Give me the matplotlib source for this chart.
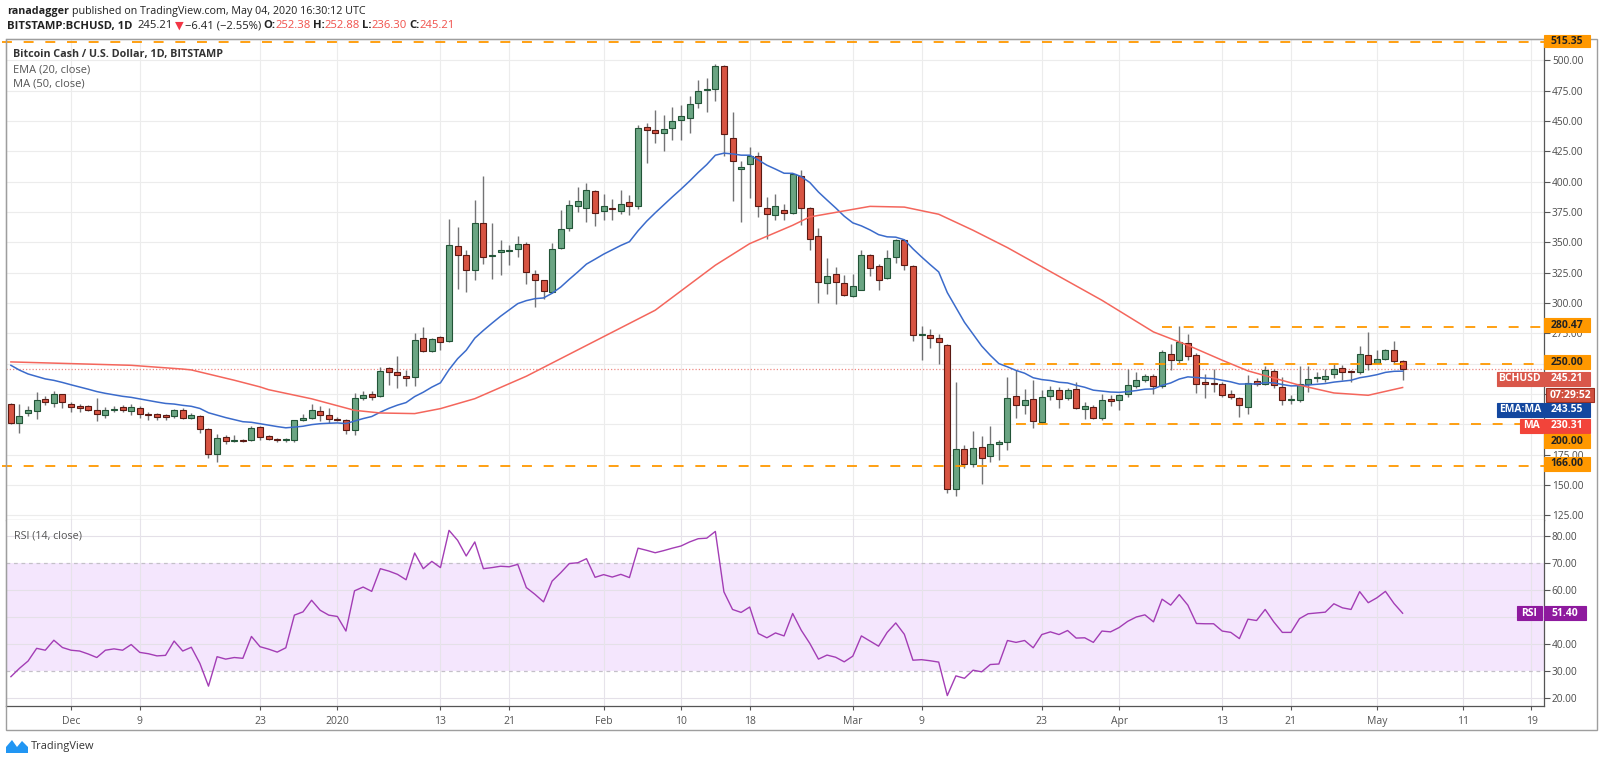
import numpy as np
import matplotlib
matplotlib.use("Agg")
import matplotlib.pyplot as plt
from matplotlib.patches import Rectangle, Polygon

W, H = 1600, 763
FAM = ["Open Sans", "DejaVu Sans"]

# day 0 = Dec 1 2019, first candle = Nov 24 2019
FIRST_DAY = -7

opens = [216.5, 201.1, 209.4, 211.0, 220.6, 217.6, 224.7,
         216.8, 215.4, 215.4, 211.5, 207.7, 211.8, 214.0, 210.7, 213.2, 208.8,
         208.2, 207.4, 206.9, 211.8, 205.5, 207.2, 196.4, 175.8, 189.6, 186.6,
         187.4, 187.4, 197.5, 190.7, 188.2, 186.9, 186.8, 203.3, 205.2, 210.7,
         207.9, 204.4, 203.3, 195.6, 221.9, 224.7, 223.1, 246.1, 242.8, 239.8,
         238.7, 271.4, 260.2, 272.0, 268.4, 347.2, 339.8, 327.5, 365.9, 338.4,
         342.3, 343.0, 344.2, 348.6, 323.6, 318.7, 309.1, 345.5, 362.0, 380.2,
         378.3, 392.0, 375.8, 378.5, 375.8, 383.2, 379.7, 445.0, 442.9, 440.1,
         444.5, 451.1, 452.7, 465.1, 475.4, 476.1, 495.1, 436.3, 410.7, 414.8,
         421.4, 378.3, 372.5, 376.9, 374.4, 404.6, 378.3, 354.9, 316.5, 324.2,
         316.7, 305.8, 311.0, 339.8, 330.7, 320.4, 337.9, 351.6, 330.2, 273.9,
         273.3, 271.1, 265.1, 147.0, 179.9, 167.6, 181.3, 173.6, 183.8, 185.4,
         223.1, 216.2, 221.2, 202.0, 223.4, 228.6, 222.0, 229.4, 212.9, 214.3,
         205.5, 220.6, 220.0, 224.7, 231.3, 236.3, 239.6, 231.6, 258.2, 252.8,
         267.0, 256.9, 234.9, 234.0, 233.5, 224.7, 222.0, 214.3, 235.5, 233.5,
         244.0, 230.8, 220.3, 219.8, 233.5, 238.1, 237.4, 241.2, 246.7, 243.4,
         243.1, 257.4, 250.6, 254.1, 261.5, 252.38]
highs = [217.6, 216.5, 214.8, 226.4, 223.1, 227.2, 225.3,
         218.1, 216.5, 216.2, 221.4, 214.3, 214.8, 216.2, 216.5, 214.8, 209.9,
         209.3, 208.8, 212.9, 213.5, 209.3, 208.0, 197.0, 192.3, 191.0, 191.2,
         188.2, 198.4, 198.4, 191.3, 188.8, 189.0, 203.9, 208.8, 216.5, 214.8,
         213.7, 206.1, 204.7, 225.8, 227.5, 227.5, 247.2, 247.2, 256.0, 244.5,
         275.3, 280.2, 271.4, 273.1, 369.0, 362.6, 343.4, 384.6, 404.4, 365.9,
         351.6, 347.5, 354.9, 350.3, 326.9, 319.2, 349.5, 376.9, 385.2, 395.6,
         398.9, 392.9, 390.1, 386.0, 392.9, 388.7, 446.4, 448.4, 458.8, 454.7,
         461.5, 462.9, 470.3, 483.5, 485.7, 496.7, 495.9, 457.4, 416.8, 428.6,
         424.5, 387.3, 389.5, 381.8, 407.1, 409.3, 379.1, 362.1, 337.3, 329.7,
         323.1, 324.2, 343.4, 340.1, 332.4, 343.9, 353.0, 353.0, 331.0, 280.8,
         278.8, 274.7, 266.5, 234.9, 182.7, 194.5, 190.1, 198.4, 187.4, 239.0,
         245.0, 229.4, 236.3, 228.6, 231.3, 230.8, 230.2, 234.9, 218.4, 215.7,
         225.3, 223.9, 225.3, 245.9, 243.1, 241.8, 241.2, 261.0, 266.5, 280.8,
         274.7, 258.8, 241.2, 245.9, 234.9, 228.0, 222.5, 240.4, 238.5, 247.8,
         245.9, 239.0, 223.9, 247.8, 247.8, 243.1, 245.9, 249.5, 248.6, 244.5,
         264.3, 276.1, 261.0, 262.4, 268.7, 252.88]
lows = [200.0, 192.9, 207.2, 204.1, 215.7, 214.3, 213.7,
        210.2, 209.9, 211.0, 202.8, 205.2, 209.9, 209.9, 208.0, 205.5, 203.3,
        203.9, 203.3, 205.5, 204.7, 204.7, 192.9, 172.3, 169.2, 183.5, 185.2,
        185.8, 186.5, 187.4, 186.8, 185.6, 185.8, 185.8, 202.7, 204.4, 202.7,
        201.1, 202.7, 192.3, 190.9, 220.3, 219.8, 222.5, 232.2, 230.0, 231.3,
        231.3, 259.6, 259.3, 261.5, 267.8, 311.8, 309.1, 318.7, 331.9, 320.0,
        322.8, 331.0, 337.9, 316.0, 296.7, 303.6, 308.2, 344.5, 359.3, 374.7,
        366.8, 363.2, 368.7, 368.7, 373.6, 372.2, 377.7, 415.4, 431.9, 425.3,
        434.6, 434.6, 440.1, 461.0, 457.4, 466.5, 420.9, 384.1, 366.8, 386.8,
        370.9, 353.0, 368.1, 368.2, 373.6, 364.0, 343.9, 300.0, 307.1, 298.9,
        305.5, 304.9, 310.4, 322.0, 311.0, 319.5, 333.0, 327.5, 268.7, 252.7,
        263.2, 250.0, 143.0, 141.0, 164.3, 164.8, 151.1, 168.9, 170.3, 179.1,
        205.0, 208.8, 197.3, 200.6, 219.8, 213.7, 219.8, 212.9, 204.7, 204.7,
        203.9, 214.8, 211.5, 222.5, 230.2, 234.9, 225.3, 230.2, 244.5, 250.6,
        252.8, 225.8, 222.0, 226.7, 222.5, 221.2, 206.1, 208.8, 231.3, 232.2,
        230.2, 215.7, 216.5, 218.4, 226.7, 234.9, 234.9, 238.5, 236.3, 234.9,
        241.8, 244.5, 249.5, 252.8, 250.0, 236.30]
closes = [201.4, 206.9, 211.4, 219.8, 218.4, 224.7, 218.1,
          214.3, 213.5, 211.5, 208.5, 211.5, 212.6, 211.5, 214.0, 208.5, 207.7,
          206.1, 206.1, 211.8, 205.5, 207.4, 196.2, 175.8, 188.7, 186.5, 187.3,
          186.3, 197.0, 189.6, 187.9, 186.8, 187.4, 203.3, 205.2, 212.1, 207.9,
          204.4, 203.6, 195.6, 221.9, 224.4, 222.5, 243.9, 243.4, 240.9, 237.9,
          269.8, 260.4, 270.6, 267.8, 348.1, 339.8, 326.9, 365.9, 337.9, 339.8,
          343.7, 343.4, 348.9, 325.5, 318.7, 309.9, 344.8, 361.3, 380.5, 383.8,
          392.9, 374.5, 379.7, 377.5, 381.9, 379.7, 444.5, 442.3, 440.1, 443.7,
          449.7, 454.1, 463.7, 474.7, 476.1, 495.1, 439.6, 416.8, 412.1, 421.4,
          380.0, 373.1, 379.7, 374.5, 406.0, 378.6, 353.0, 317.0, 322.0, 317.0,
          306.6, 313.7, 339.8, 328.8, 319.2, 337.3, 351.6, 331.6, 273.9, 274.7,
          271.4, 267.8, 147.0, 179.9, 167.6, 180.8, 172.5, 184.0, 185.2, 221.9,
          216.2, 220.3, 202.8, 222.5, 228.6, 221.2, 228.6, 213.7, 215.1, 205.5,
          220.3, 219.0, 223.9, 232.2, 236.3, 239.6, 231.6, 259.6, 252.8, 267.9,
          256.3, 233.5, 233.0, 233.6, 223.9, 222.5, 215.7, 234.1, 233.0, 245.1,
          232.2, 219.8, 220.6, 233.5, 237.6, 238.7, 239.6, 245.9, 243.1, 243.1,
          258.2, 250.0, 254.1, 261.0, 251.9, 245.21]

# EMA(20) starting value at the first candle
ema_start = 248.6

# MA(50) (day, value)
ma_days = [-7, 7, 13, 14, 19, 22, 23, 28, 33, 36, 40, 43, 47, 53, 68, 75, 79,
           84, 86, 93, 97, 101, 105, 109, 120, 126, 130, 134, 137, 143, 147, 151, 155]
ma_vals = [251.4, 248.6, 245.5, 244.8, 236.3, 230.8, 228.5, 221.0, 211.5, 209.3,
           208.8, 212.9, 221.1, 239.6, 294.0, 331.1, 348.9, 364.0, 370.9, 379.6,
           379.0, 373.1, 359.9, 345.6, 302.2, 276.1, 265.1, 252.8, 244.0, 232.2,
           225.8, 223.9, 230.31]

rsi = [27.9, 31.0, 33.7, 38.4, 37.7, 41.4, 38.7,
       37.7, 37.4, 36.3, 35.0, 37.7, 38.2, 37.7, 39.8, 36.9, 36.4,
       35.6, 35.8, 41.1, 37.4, 38.8, 32.8, 24.4, 35.3, 34.4, 35.0,
       34.7, 42.8, 39.0, 38.1, 37.0, 38.6, 50.7, 51.9, 56.2, 52.5,
       50.7, 50.2, 44.8, 59.7, 61.1, 59.5, 67.9, 67.0, 65.8, 63.8,
       73.7, 67.9, 70.6, 68.3, 82.1, 78.4, 72.6, 77.8, 67.9, 68.3,
       68.8, 68.6, 69.5, 60.9, 58.4, 55.6, 63.3, 66.4, 69.8, 70.1,
       71.6, 64.7, 65.7, 64.8, 65.8, 64.6, 75.5, 74.7, 73.8, 74.6,
       75.5, 76.3, 77.8, 79.0, 79.2, 81.7, 59.3, 52.8, 51.7, 53.7,
       43.9, 42.3, 44.1, 43.0, 51.3, 45.1, 40.2, 34.4, 35.9, 35.1,
       33.4, 35.5, 43.0, 41.1, 39.2, 44.3, 47.8, 43.6, 34.0, 34.2,
       33.8, 33.3, 20.9, 28.2, 27.3, 30.3, 29.7, 32.4, 32.6, 41.3,
       40.6, 41.3, 38.6, 43.5, 44.5, 43.5, 45.0, 42.2, 42.3, 40.6,
       44.8, 44.5, 46.1, 48.4, 50.0, 50.8, 48.2, 56.6, 54.4, 58.3,
       54.4, 47.6, 47.5, 47.5, 44.8, 44.3, 42.0, 49.2, 48.7, 52.8,
       48.2, 44.3, 44.3, 49.4, 51.2, 51.5, 51.8, 54.9, 53.4, 52.8,
       59.4, 55.3, 57.1, 59.5, 55.0, 51.4]

# horizontal levels drawn by the author (level, first day)
levels = [(515.35, -8), (280.47, 127), (250.0, 106), (200.0, 110), (166.0, -8)]
level_labels = ["515.35", "280.47", "250.00", "200.00", "166.00"]

last_close_label = "245.21"
ema_label = "243.55"
ma_label = "230.31"
rsi_label = "51.40"
countdown = "07:29:52"

price_ticks = list(range(125, 501, 25))
hidden_price_ticks = [200, 225, 250]   # covered by the tags on the scale
rsi_ticks = [20, 30, 40, 50, 60, 70, 80]
hidden_rsi_ticks = [50]
date_ticks = [0, 8, 22, 31, 43, 51, 62, 71, 79, 91, 99, 113, 122, 134, 142, 152, 162, 170]
date_labels = ["Dec", "9", "23", "2020", "13", "21", "Feb", "10", "18",
               "Mar", "9", "23", "Apr", "13", "21", "May", "11", "19"]

UP, UP_EDGE = "#6ba583", "#225437"
DOWN, DOWN_EDGE = "#d75442", "#5b1a13"
WICK = "#737375"
GRID = "#ececec"
ORANGE = "#ff9800"


def fx(x):
    return x / W


def fy(y):
    return 1 - y / H


fig = plt.figure(figsize=(W / 100, H / 100), dpi=100)
fig.patch.set_facecolor("white")
rend = fig.canvas.get_renderer()

ax = fig.add_axes([fx(6), fy(520), fx(1543.5) - fx(6), fy(39.3) - fy(520)])
rx = fig.add_axes([fx(6), fy(706), fx(1543.5) - fx(6), fy(520) - fy(706)])

x0_day, x1_day = -7.57, 171.4
ax.set_xlim(x0_day, x1_day)
rx.set_xlim(x0_day, x1_day)
ax.set_ylim(121.1, 517.3)
rx.set_ylim(17.04, 85.93)

days = np.arange(FIRST_DAY, FIRST_DAY + len(closes))
o = np.array(opens)
h = np.array(highs)
l = np.array(lows)
c = np.array(closes)

# grid
for v in price_ticks:
    ax.axhline(v, color=GRID, lw=0.8, zorder=0)
for v in [20, 40, 50, 60, 80]:
    rx.axhline(v, color="#e4e0e8", lw=0.8, zorder=1)
for d in date_ticks:
    ax.axvline(d, color=GRID, lw=0.8, zorder=0)
    rx.axvline(d, color="#e6e3ea", lw=0.8, zorder=1)

# candles
up = c >= o
ax.vlines(days, l, h, color=WICK, lw=1.0, zorder=3)
body_lo = np.minimum(o, c)
body_h = np.maximum(np.abs(c - o), 0.6)
ax.bar(days, body_h, 0.7, bottom=body_lo,
       color=np.where(up, UP, DOWN), edgecolor=np.where(up, UP_EDGE, DOWN_EDGE),
       linewidth=0.8, zorder=4)

# EMA 20
alpha = 2 / 21
ema = [ema_start]
for v in closes[1:]:
    ema.append(ema[-1] + alpha * (v - ema[-1]))
ax.plot(days, ema, color="#3b6bcb", lw=1.1, zorder=5)

# MA 50
ax.plot(ma_days, ma_vals, color="#f4665c", lw=1.1, zorder=5)

# levels
for lv, start in levels:
    ax.plot([start, x1_day], [lv, lv], color=ORANGE, lw=1.3,
            linestyle=(0, (5.5, 6.5)), zorder=6, clip_on=False)
ax.axhline(closes[-1], color="#ee8a84", lw=0.9, linestyle=(0, (1, 1.6)), zorder=2)

# RSI
rx.axhspan(30, 70, color="#f4e6fd", zorder=0, lw=0)
for v in (30, 70):
    rx.axhline(v, color="#c4c0c8", lw=0.9, linestyle=(0, (3, 3)), zorder=1)
rx.plot(days, rsi, color="#a33db5", lw=1.0, zorder=4)

# axes styling
for a in (ax, rx):
    for s in ("left", "top", "bottom"):
        a.spines[s].set_color("#b8b8b8")
        a.spines[s].set_linewidth(0.9)
    a.spines["right"].set_color("#555555")
    a.spines["right"].set_linewidth(0.9)
    a.yaxis.tick_right()
    a.tick_params(axis="y", direction="out", length=4, width=0.8, color="#555555",
                  labelsize=7.3, labelcolor="#4a4a4a", pad=2)
    a.set_xticks(date_ticks)
rx.spines["top"].set_visible(False)
rx.spines["bottom"].set_color("#555555")

ax.set_yticks(price_ticks)
ax.set_yticklabels(["" if v in hidden_price_ticks else f"{v:.2f}" for v in price_ticks],
                   family=FAM)
ax.tick_params(axis="x", length=0, labelbottom=False)
rx.set_yticks(rsi_ticks)
rx.set_yticklabels(["" if v in hidden_rsi_ticks else f"{v:.2f}" for v in rsi_ticks],
                   family=FAM)
rx.set_xticklabels(date_labels, family=FAM)
rx.tick_params(axis="x", direction="out", length=3, width=0.8, color="#555555",
               labelsize=7.5, labelcolor="#555555", pad=4)


# right side tags
def tag(x0, x1, yc, s, fc, tc="white", hgt=14, ec=None):
    fig.add_artist(Rectangle((fx(x0), fy(yc + hgt / 2)), (x1 - x0) / W, hgt / H,
                             transform=fig.transFigure, facecolor=fc,
                             edgecolor=ec or fc, lw=0.8, zorder=5))
    fig.text(fx((x0 + x1) / 2), fy(yc), s, ha="center", va="center", color=tc,
             fontsize=7.5, fontweight="bold", family=FAM, zorder=6)


tag(1544, 1590, 41, level_labels[0], ORANGE, "#222222", hgt=12)
tag(1544, 1590, 325.5, level_labels[1], ORANGE, "#222222")
tag(1544, 1590, 362.5, level_labels[2], ORANGE, "#222222")
tag(1497, 1542.5, 379, "BCHUSD", "#d9574a")
tag(1544, 1590, 379, last_close_label, "#d9574a")
tag(1546, 1594, 395, countdown, "#d0503f", ec="#9a2f22")
tag(1497, 1542.5, 410, "EMA:MA", "#13479f")
tag(1544, 1590, 410, ema_label, "#13479f")
tag(1520, 1542.5, 425.5, "MA", "#f2443a")
tag(1544, 1590, 425.5, ma_label, "#f2443a")
tag(1544, 1590, 441, level_labels[3], ORANGE, "#222222")
tag(1544, 1590, 464, level_labels[4], ORANGE, "#222222")
tag(1517, 1541.5, 613, "RSI", "#8e1a9e")
tag(1544, 1586, 613, rsi_label, "#8e1a9e")

# outer frame
fig.add_artist(Rectangle((fx(6), fy(730)), (1597 - 6) / W, (730 - 39.3) / H,
                         transform=fig.transFigure, fill=False,
                         edgecolor="#9e9e9e", lw=1.0, zorder=1))


def text_run(x, y, parts, fs):
    made = []
    cur = x
    for s, col, wt, gap in parts:
        t = fig.text(fx(cur), fy(y), s, fontsize=fs, color=col, fontweight=wt,
                     family=FAM, ha="left", va="center")
        cur += t.get_window_extent(renderer=rend).width + gap * fs * 0.36
        made.append(t)
    return made, cur


def fitted_run(x, y, parts, target_end, fs=8.0):
    made, end = text_run(x, y, parts, fs)
    for t in made:
        t.remove()
    fs = fs * (target_end - x) / (end - x)
    text_run(x, y, parts, fs)


DARK = "#222222"
RED = "#f0504a"
fitted_run(7, 11.5, [("ranadagger", DARK, "bold", 1),
                     ("published on TradingView.com, May 04, 2020 16:30:12 UTC", DARK, "normal", 0)],
           368)
fitted_run(7, 26, [("BITSTAMP:BCHUSD, 1D", DARK, "bold", 1.6),
                   (last_close_label, DARK, "normal", 0.8),
                   ("▼", "#f23645", "normal", 0.5),
                   ("−6.41 (−2.55%)", DARK, "normal", 0.8),
                   ("O:", DARK, "bold", 0), ("252.38", RED, "normal", 0.8),
                   ("H:", DARK, "bold", 0), ("252.88", RED, "normal", 0.8),
                   ("L:", DARK, "bold", 0), ("236.30", RED, "normal", 0.8),
                   ("C:", DARK, "bold", 0), ("245.21", RED, "normal", 0)],
           458)

fitted_run(13.3, 54.5, [("Bitcoin Cash / U.S. Dollar, 1D, BITSTAMP", "#333333", "bold", 0)], 224)
fitted_run(13.3, 69.5, [("EMA (20, close)", "#555555", "normal", 0)], 90.7)
fitted_run(13.3, 84, [("MA (50, close)", "#555555", "normal", 0)], 85)
fitted_run(14, 536, [("RSI (14, close)", "#555555", "normal", 0)], 82)

# TradingView footer
fig.add_artist(Polygon([(fx(6), fy(753)), (fx(6), fy(747)), (fx(12), fy(740)),
                        (fx(17), fy(747)), (fx(22), fy(741)), (fx(28), fy(747)),
                        (fx(28), fy(753))], closed=True, transform=fig.transFigure,
                       facecolor="#2196f3", edgecolor="none"))
fitted_run(31, 747, [("TradingView", "#333333", "normal", 0)], 94)

fig.savefig("out.png", dpi=100, facecolor="white")
